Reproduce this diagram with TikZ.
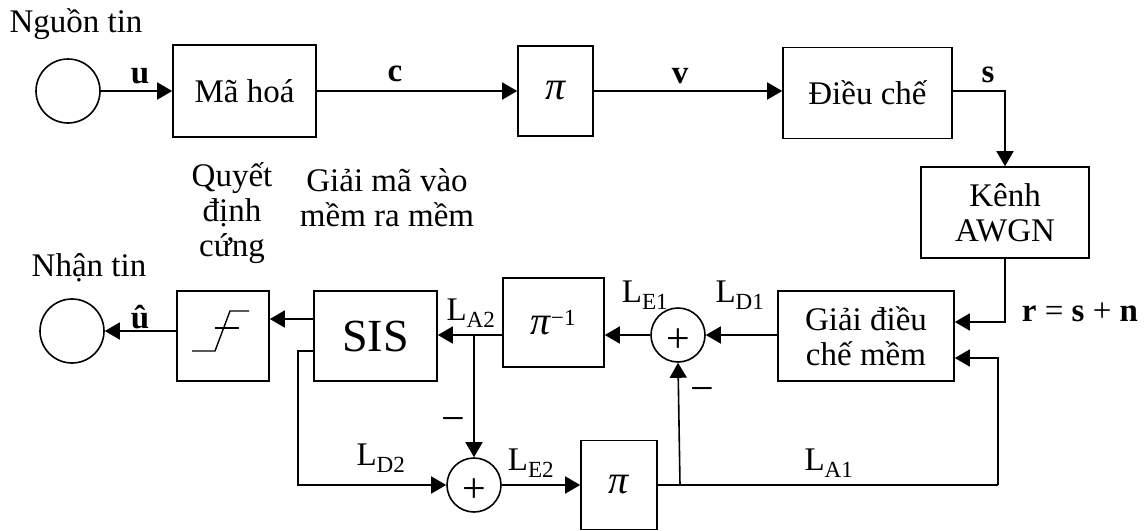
\documentclass[tikz,border=0pt]{standalone}
\usepackage{fontspec}
\setmainfont{Liberation Serif}
\newcommand{\pisym}{{\fontsize{40}{40}\selectfont\itshape π}}
\usetikzlibrary{arrows.meta,calc}
\begin{document}
\begin{tikzpicture}[x=1pt,y=-1pt,
  every node/.style={font=\fontsize{33}{35}\selectfont, inner sep=0pt},
  blk/.style={draw, line width=1.6pt, minimum width=#1, rectangle},
  circ/.style={draw, line width=1.6pt, circle, minimum size=#1},
  conn/.style={line width=1.6pt},
  arr/.style={line width=1.6pt, -{Triangle[length=15pt,width=17pt]}},
  lbl/.style={font=\fontsize{33}{35}\selectfont},
  bl/.style={font=\fontsize{33}{35}\selectfont\bfseries},
  big/.style={font=\fontsize{42}{42}\selectfont}
]
\useasboundingbox (0,0) rectangle (1145,530);

% ---- transmitter
\node[circ=64pt] (src) at (68,91) {};
\node[blk=143pt, minimum height=92pt] (enc) at (244.5,91) {Mã hoá};
\node[blk=75pt, minimum height=90pt] (pi1) at (555.5,91) {\pisym};
\node[blk=169pt, minimum height=91pt] (mod) at (867.5,93) {Điều chế};
\node[blk=168pt, minimum height=91pt, align=center] (chan) at (1005,212.5) {Kênh\\AWGN};

\draw[arr] (src) -- (enc);
\draw[arr] (enc) -- (pi1);
\draw[arr] (pi1.east) -- (pi1.east -| mod.west);
\draw[arr] (mod.east |- 0,91) -| (chan.north);

\node[bl] (lu) at (140,76) {u};
\node[bl] (lc) at (395,74) {c};
\node[bl] (lv) at (680,76) {v};
\node[bl] (ls) at (988,75) {s};
\node[lbl] (nguon) at (76,24) {Nguồn tin};

% ---- receiver
\node[blk=176pt, minimum height=90pt, align=center] (demod) at (866,336) {Giải điều\\chế mềm};
\node[circ=54pt] (sum1) at (678,335) {};
\node[big] (p1) at (678,341) {+};
\node[blk=101pt, minimum height=89pt] (pinv) at (553.5,322.5) {\pisym\textsuperscript{−1}};
\node[blk=123pt, minimum height=90pt, font=\fontsize{46}{46}\selectfont] (sis) at (375.5,336) {SIS};
\node[blk=92pt, minimum height=90pt] (hd) at (223,336) {};
\node[circ=64pt] (sink) at (72,331) {};
\node[circ=54pt] (sum2) at (474,485) {};
\node[big] (p2) at (474,491) {+};
\node[blk=76pt, minimum height=89pt] (pi2) at (619,485) {\pisym};

% hard-decision symbol
\draw[line width=1.4pt] (192,351) -- (215,351) -- (230,311) -- (249,311);
\draw[line width=1.4pt] (215,328) -- (239,328);

\draw[arr] (chan.south) |- ([yshift=14pt]demod.east);
\draw[arr] (demod.west |- sum1) -- (sum1);
\draw[arr] (sum1.west) -- (sum1.west -| pinv.east);
\coordinate (ba2) at (474,335);
\draw[arr] (pinv.west |- ba2) -- (ba2 -| sis.east);
\draw[arr] (ba2) -- (sum2.north);
\draw[arr] ([yshift=17pt]sis.west) -- ([yshift=17pt]sis.west -| hd.east);
\draw[arr] (hd.west |- sink) -- (sink.east);
\coordinate (ld2c) at (298,351);
\draw[arr] ([yshift=-15pt]sis.west) -- (ld2c) |- (sum2.west);
\draw[arr] (sum2.east) -- (pi2.west);
\coordinate (br1) at (680,485);
\coordinate (la1c) at (998,485);
\draw[conn] (pi2.east) -- (la1c);
\draw[arr] (br1) -- (sum1.south);
\draw[arr] (la1c) |- ([yshift=-22pt]demod.east);

% labels
\node[lbl] (rsn) at (1080,312) {\textbf{r} = \textbf{s} + \textbf{n}};
\node[lbl] (lD1) at (740,295) {L\textsubscript{D1}};
\node[lbl] (lE1) at (645,295) {L\textsubscript{E1}};
\node[lbl] (lA2) at (471,313) {L\textsubscript{A2}};
\node[lbl] (lE2) at (531,463) {L\textsubscript{E2}};
\node[lbl] (lD2) at (381,458) {L\textsubscript{D2}};
\node[lbl] (lA1) at (829,463) {L\textsubscript{A1}};
\node[big] (m1) at (453,425) {−};
\node[big] (m2) at (702,395) {−};
\node[bl] (luh) at (140,317) {û};
\node[lbl] (nhan) at (89,268) {Nhận tin};
\node[lbl, align=center] (qd) at (232,213) {Quyết\\định\\cứng};
\node[lbl, align=center] (gm) at (387,198) {Giải mã vào\\mềm ra mềm};
\end{tikzpicture}
\end{document}
